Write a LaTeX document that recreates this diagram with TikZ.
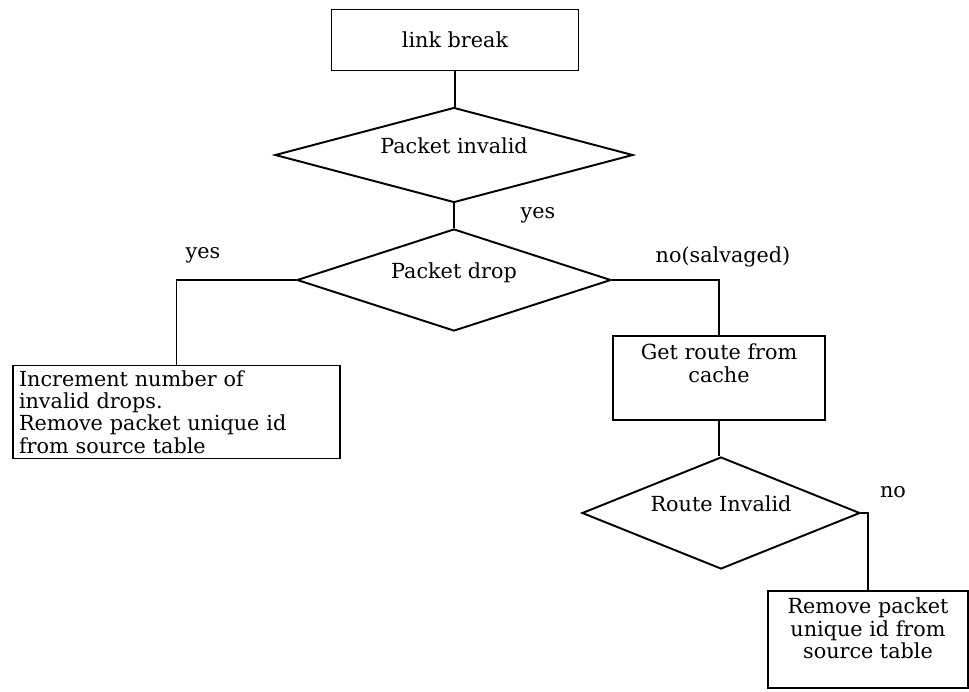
\documentclass[tikz,border=0pt]{standalone}
\usepackage{fontspec}
\setmainfont{DejaVu Serif}
\usepackage{tikz}
\usetikzlibrary{shapes.geometric,positioning}

\begin{document}
\begin{tikzpicture}[
  x=1cm, y=1cm,
  every node/.style={font=\fontsize{11.8}{12.7}\selectfont},
  box/.style={draw, line width=1.1pt, inner sep=0.1cm},
  decision/.style={diamond, draw, line width=1.1pt, inner sep=0pt, aspect=3.7,
                   text depth=0.38cm},
  link/.style={line width=1.1pt},
  tag/.style={inner sep=1pt},
]
  \useasboundingbox (0,0) rectangle (19.38,-13.82);

  % Main column ---------------------------------------------------------------
  \node[box, minimum width=4.94cm, minimum height=1.22cm] (brk) at (9.10,-0.80) {link break};
  \node[decision, minimum width=7.16cm, minimum height=1.90cm] (pinv) at (9.08,-3.10) {Packet invalid};
  \node[decision, minimum width=6.28cm, minimum height=2.04cm] (pdrop) at (9.08,-5.60) {Packet drop};
  \draw[link] (brk.south) -- (brk.south |- pinv.north);
  \draw[link] (pinv.south) -- (pdrop.north);
  \node[tag] (lyes) at (10.76,-4.30) {yes};

  % Dropped packet ------------------------------------------------------------
  \node[box, align=left, text width=6.3cm, minimum width=6.54cm, minimum height=1.80cm]
    (incr) at (3.53,-8.24)
    {Increment number of\\invalid drops.\\Remove packet unique id\\from source table};
  \draw[link] (pdrop.west) -| (incr.north);
  \node[tag] (dyes) at (4.06,-5.10) {yes};

  % Salvaged packet -----------------------------------------------------------
  \node[box] (getr) at (14.38,-7.56)
    {\parbox[c][1.48cm][t]{4.04cm}{\vspace*{0.06cm}\centering Get route from\\cache}};
  \node[decision, minimum width=5.56cm, minimum height=2.24cm, aspect=2.5] (rinv) at (14.42,-10.26) {Route Invalid};
  \node[box] (rmv) at (17.36,-12.79)
    {\parbox[c][1.74cm][t]{3.8cm}{\vspace*{0.04cm}\centering Remove packet\\unique id from\\source table}};
  \draw[link] (pdrop.east) -| (getr.north);
  \draw[link] (getr.south) -- (getr.south |- rinv.north);
  \draw[link] (rinv.east) -| (rmv.north);
  \node[tag] (salv) at (14.46,-5.14) {no(salvaged)};
  \node[tag] (rno) at (17.86,-9.84) {no};
\end{tikzpicture}
\end{document}
